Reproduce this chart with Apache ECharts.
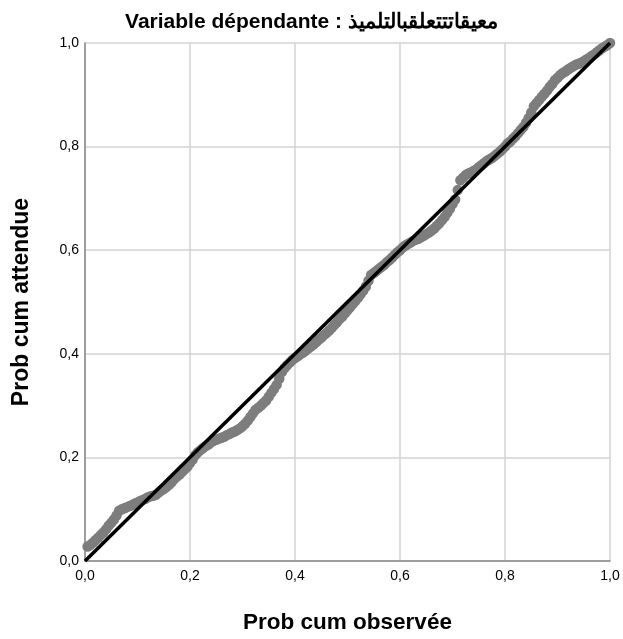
<!DOCTYPE html>
<html>
<head>
<meta charset="utf-8">
<script src="https://cdn.jsdelivr.net/npm/echarts@6/dist/echarts.min.js"></script>
<style>
html,body{margin:0;padding:0;background:#fff;}
#chart{width:623px;height:639px;}
</style>
</head>
<body>
<div id="chart"></div>
<script>
// Observed cumulative probabilities
var observed = [
0.005,0.010,0.015,0.020,0.025,0.030,0.035,0.040,0.045,0.050,
0.055,0.060,0.065,0.070,0.075,0.080,0.085,0.090,0.095,0.100,
0.105,0.110,0.115,0.120,0.125,0.130,0.135,0.140,0.145,0.150,
0.155,0.160,0.165,0.170,0.175,0.180,0.185,0.190,0.195,0.200,
0.205,0.210,0.215,0.220,0.225,0.230,0.235,0.240,0.245,0.250,
0.255,0.260,0.265,0.270,0.275,0.280,0.285,0.290,0.295,0.300,
0.305,0.310,0.315,0.320,0.325,0.330,0.335,0.340,0.345,0.350,
0.355,0.360,0.365,0.370,0.375,0.380,0.385,0.390,0.395,0.400,
0.405,0.410,0.415,0.420,0.425,0.430,0.435,0.440,0.445,0.450,
0.455,0.460,0.465,0.470,0.475,0.480,0.485,0.490,0.495,0.500,
0.505,0.510,0.515,0.520,0.525,0.530,0.535,0.540,0.545,0.550,
0.555,0.560,0.565,0.570,0.575,0.580,0.585,0.590,0.595,0.600,
0.605,0.610,0.615,0.620,0.625,0.630,0.635,0.640,0.645,0.650,
0.655,0.660,0.665,0.670,0.675,0.680,0.685,0.690,0.695,0.700,
0.705,0.710,0.715,0.720,0.725,0.730,0.735,0.740,0.745,0.750,
0.755,0.760,0.765,0.770,0.775,0.780,0.785,0.790,0.795,0.800,
0.805,0.810,0.815,0.820,0.825,0.830,0.835,0.840,0.845,0.850,
0.855,0.860,0.865,0.870,0.875,0.880,0.885,0.890,0.895,0.900,
0.905,0.910,0.915,0.920,0.925,0.930,0.935,0.940,0.945,0.950,
0.955,0.960,0.965,0.970,0.975,0.980,0.985,0.990,0.995,1.000];
// Expected cumulative probabilities
var expected = [
0.028,0.031,0.035,0.040,0.045,0.050,0.055,0.061,0.068,0.074,
0.080,0.088,0.097,0.100,0.102,0.104,0.106,0.108,0.111,0.113,
0.116,0.118,0.120,0.123,0.125,0.126,0.128,0.132,0.136,0.139,
0.143,0.147,0.152,0.158,0.163,0.167,0.172,0.177,0.182,0.189,
0.196,0.204,0.210,0.214,0.218,0.222,0.225,0.229,0.232,0.234,
0.236,0.238,0.240,0.243,0.245,0.248,0.250,0.253,0.256,0.260,
0.265,0.271,0.278,0.285,0.292,0.296,0.300,0.305,0.310,0.317,
0.325,0.332,0.340,0.352,0.365,0.372,0.378,0.383,0.388,0.392,
0.395,0.399,0.402,0.406,0.410,0.414,0.418,0.422,0.427,0.431,
0.436,0.440,0.445,0.450,0.456,0.461,0.467,0.472,0.478,0.484,
0.490,0.496,0.502,0.508,0.515,0.522,0.530,0.541,0.552,0.556,
0.560,0.564,0.568,0.572,0.577,0.581,0.586,0.591,0.596,0.600,
0.605,0.609,0.612,0.615,0.618,0.620,0.622,0.625,0.628,0.631,
0.634,0.638,0.642,0.647,0.652,0.658,0.664,0.672,0.680,0.689,
0.698,0.716,0.735,0.740,0.745,0.748,0.750,0.753,0.756,0.760,
0.764,0.768,0.772,0.775,0.778,0.782,0.786,0.790,0.795,0.800,
0.806,0.810,0.815,0.820,0.826,0.832,0.838,0.846,0.855,0.866,
0.878,0.884,0.890,0.896,0.902,0.908,0.915,0.921,0.928,0.933,
0.938,0.942,0.945,0.949,0.952,0.955,0.958,0.960,0.962,0.965,
0.968,0.971,0.975,0.978,0.982,0.986,0.990,0.993,0.996,1.000];
// Reference diagonal
var refX = [0, 1];
var refY = [0, 1];
var titleText = 'Variable dépendante : معيقاتتتعلقبالتلميذ';
var xName = 'Prob cum observée';
var yName = 'Prob cum attendue';

var pts = observed.map(function(v, i){ return [v, expected[i]]; });
var ref = refX.map(function(v, i){ return [v, refY[i]]; });
var fmt = function(v){ return v.toFixed(1).replace('.', ','); };
var FONT = '"Liberation Sans", Arial, sans-serif';

var chart = echarts.init(document.getElementById('chart'));
chart.setOption({
  animation: false,
  backgroundColor: '#fff',
  title: {
    text: titleText, left: 'center', top: 7,
    textStyle: {fontFamily: FONT, fontSize: 21, fontWeight: 'bold', color: '#000'}
  },
  grid: {left: 85, top: 43, right: 13, bottom: 71, containLabel: false},
  xAxis: {
    type: 'value', min: 0, max: 1, interval: 0.2,
    name: xName, nameLocation: 'middle', nameGap: 50,
    nameTextStyle: {fontFamily: FONT, fontSize: 22.5, fontWeight: 'bold', color: '#000'},
    axisLine: {show: true, lineStyle: {color: '#888', width: 1.5}},
    axisTick: {show: false},
    axisLabel: {formatter: fmt, fontFamily: FONT, fontSize: 14, color: '#000', margin: 8},
    splitLine: {show: true, lineStyle: {color: '#d3d3d3', width: 1.5}}
  },
  yAxis: {
    type: 'value', min: 0, max: 1, interval: 0.2,
    name: yName, nameLocation: 'middle', nameGap: 52,
    nameTextStyle: {fontFamily: FONT, fontSize: 23, fontWeight: 'bold', color: '#000'},
    axisLine: {show: true, lineStyle: {color: '#888', width: 1.5}},
    axisTick: {show: false},
    axisLabel: {formatter: fmt, fontFamily: FONT, fontSize: 14, color: '#000', margin: 6},
    splitLine: {show: true, lineStyle: {color: '#d3d3d3', width: 1.5}}
  },
  series: [
    {
      type: 'scatter', data: pts, symbol: 'circle', symbolSize: 10.5,
      itemStyle: {color: '#7d7d7d', opacity: 1}, z: 2
    },
    {
      type: 'line', data: ref, symbol: 'none',
      lineStyle: {color: '#000', width: 3.5}, z: 3
    }
  ]
});
</script>
</body>
</html>
